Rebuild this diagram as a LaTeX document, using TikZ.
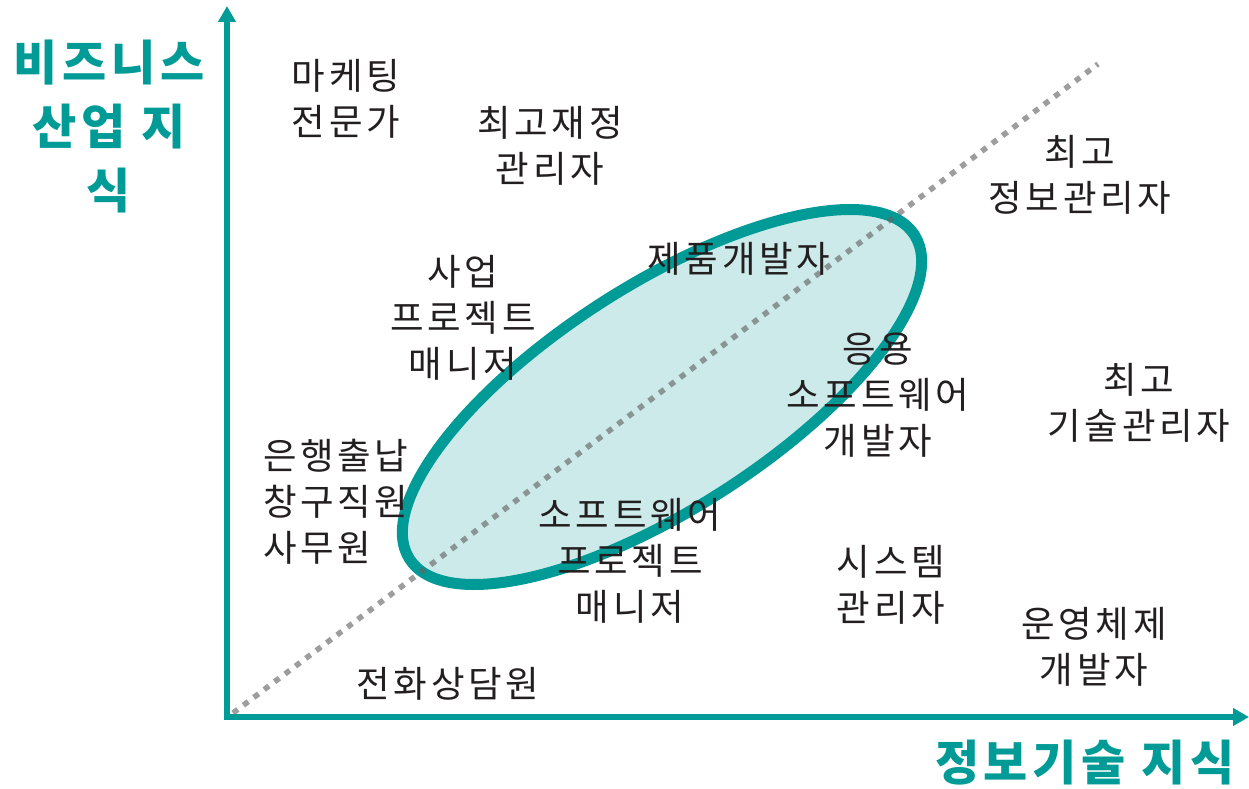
\documentclass[tikz,border=0pt]{standalone}
\usepackage{fontspec}
\setmainfont{Noto Sans CJK KR}
\newfontfamily\krsp{Noto Sans CJK KR}[LetterSpace=10]
\usetikzlibrary{arrows.meta}
\definecolor{teal}{RGB}{0,155,150}
\definecolor{tealfill}{RGB}{203,234,233}
\definecolor{txt}{RGB}{35,31,32}
\definecolor{dotgray}{RGB}{100,100,100}
\tikzset{
  lbl/.style={font=\krsp\fontsize{36.5}{46}\selectfont, text=txt, align=center, inner sep=0pt},
  axtitle/.style={font=\krsp\fontsize{48}{64}\selectfont\bfseries, text=teal, align=center, inner sep=0pt},
  axis/.style={draw=teal, line width=5.5pt, -{Triangle[length=16pt,width=17pt]}},
}
\begin{document}
\begin{tikzpicture}[x=1pt,y=1pt]
\useasboundingbox (0,0) rectangle (1249,788);
% ellipse
\draw[draw=teal, fill=tealfill, line width=11pt, rotate around={32.7:(662,391)}] (662,391) ellipse [x radius=300, y radius=112];
% diagonal
\coordinate (d0) at (233,75);
\coordinate (d1) at (1098,724);
\draw[dotgray, opacity=0.63, line width=5.5pt, dash pattern=on 6pt off 7pt] (d0) -- (d1);
% axes
\coordinate (o) at (227,71);
\coordinate (ytip) at (227,782);
\coordinate (xtip) at (1249,71);
\draw[axis] (o) ++(0,-2.75) -- (ytip);
\draw[axis] (o) ++(-2.75,0) -- (xtip);
% titles
\node[axtitle] (yt) at (109,661) {비즈니스\\산업 지\\식};
\node[axtitle] (xt) at (1085,25) {정보기술 지식};
% labels
\node[lbl] (n1) at (346,689.5) {마케팅\\전문가};
\node[lbl] (n2) at (550,642) {최고재정\\관리자};
\node[lbl] (n3) at (1080,613) {최고\\정보관리자};
\node[lbl] (n4) at (739,529) {제품개발자};
\node[lbl] (n5) at (463,470) {사업\\프로젝트\\매니저};
\node[lbl] (n6) at (878,393) {응용\\소프트웨어\\개발자};
\node[lbl] (n7) at (1139,385) {최고\\기술관리자};
\node[lbl, align=left, anchor=west] (n8) at (263,286) {은행출납\\창구직원\\사무원};
\node[lbl] (n9) at (630,227) {소프트웨어\\프로젝트\\매니저};
\node[lbl] (n10) at (891,203) {시스템\\관리자};
\node[lbl] (n11) at (1094,141) {운영체제\\개발자};
\node[lbl] (n12) at (448,104) {전화상담원};
\end{tikzpicture}
\end{document}
